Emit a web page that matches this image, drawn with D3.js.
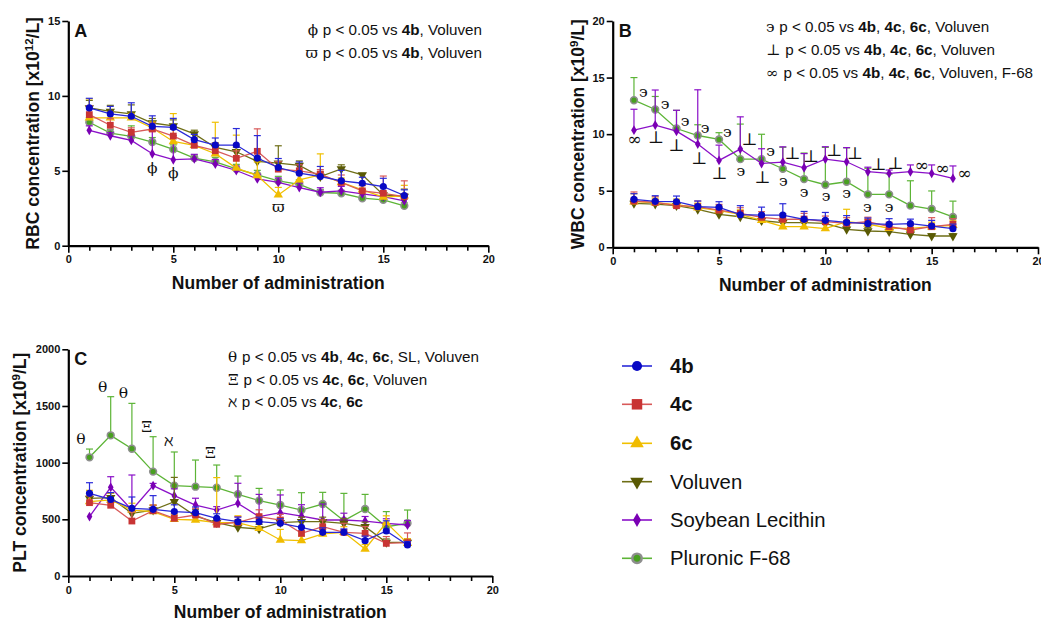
<!DOCTYPE html>
<html>
<head>
<meta charset="utf-8">
<script src="https://cdn.jsdelivr.net/npm/d3@7"></script>
<style>
  html, body { margin: 0; padding: 0; background: #fff; }
  svg { display: block; }
  text { font-family: "Liberation Sans", Arial, Helvetica, sans-serif; fill: #111; }
  .sym { font-family: "DejaVu Serif", "Liberation Serif", serif; }
</style>
</head>
<body>
<svg id="chart" width="1041" height="621"></svg>
<script>
// ---- Data -------------------------------------------------------------
const administrations = [1, 2, 3, 4, 5, 6, 7, 8, 9, 10, 11, 12, 13, 14, 15, 16];
const seriesNames = ["4b", "4c", "6c", "Voluven", "Soybean Lecithin", "Pluronic F-68"];
const xTicks = [0, 5, 10, 15, 20];
const xMinorTicks = [1, 2, 3, 4, 6, 7, 8, 9, 11, 12, 13, 14, 16, 17, 18, 19];
const rbcTicks = [0, 5, 10, 15];
const wbcTicks = [0, 5, 10, 15, 20];
const pltTicks = [0, 500, 1000, 1500, 2000];

// RBC [x10^12/L], mean and SD
const rbc4b = [9.2, 8.8, 8.64, 7.97, 7.9, 7.08, 6.72, 6.72, 5.85, 5.22, 4.84, 4.62, 4.33, 4.17, 3.95, 3.35];
const rbc4bSd = [0.64, 0.5, 0.9, 0.7, 0.6, 0.35, 0.47, 1.1, 1.5, 0.6, 0.75, 0.67, 0.7, 0.4, 0.55, 0.38];
const rbc4c = [8.75, 8.04, 7.57, 7.79, 7.32, 6.7, 6.34, 5.83, 6.3, 5.11, 5.0, 4.78, 4.22, 3.66, 3.5, 3.28];
const rbc4cSd = [0.6, 0.45, 0.3, 0.4, 0.45, 0.4, 0.5, 0.5, 1.5, 0.5, 0.4, 0.3, 0.5, 0.35, 1.15, 1.05];
const rbc6c = [8.53, 8.53, 8.53, 7.86, 6.96, 6.7, 6.14, 5.18, 4.69, 3.39, 4.4, 4.73, 4.22, 3.73, 3.24, 3.33];
const rbc6cSd = [1.27, 0.4, 0.3, 0.4, 1.86, 0.5, 2.1, 2.2, 0.9, 0.5, 0.5, 1.4, 0.3, 0.3, 0.3, 0.7];
const rbcVoluven = [9.2, 8.97, 8.8, 8.19, 8.0, 7.46, 6.56, 6.27, 5.63, 5.51, 5.36, 4.62, 5.13, 4.73, 3.39, 3.28];
const rbcVoluvenSd = [0.5, 0.4, 0.6, 0.3, 0.4, 0.25, 0.3, 0.3, 0.3, 1.16, 0.3, 0.3, 0.27, 0.1, 0.5, 0.5];
const rbcSL = [7.7, 7.34, 7.03, 6.14, 5.74, 5.8, 5.45, 5.02, 4.46, 4.22, 3.88, 3.57, 3.66, 3.46, 3.28, 2.99];
const rbcSLSd = [0.3, 0.2, 0.3, 1.5, 1.6, 0.3, 0.3, 0.3, 0.3, 0.3, 0.3, 0.3, 0.3, 0.3, 0.3, 0.3];
const rbcF68 = [8.24, 7.52, 7.3, 6.92, 6.43, 5.85, 5.6, 5.13, 4.73, 4.33, 4.1, 3.55, 3.5, 3.17, 3.06, 2.66];
const rbcF68Sd = [0.3, 0.25, 0.7, 0.3, 0.3, 0.2, 0.3, 0.3, 0.3, 0.3, 0.3, 0.2, 0.2, 0.2, 0.2, 0.2];

// WBC [x10^9/L], mean and SD
const wbc4b = [4.24, 4.06, 4.03, 3.59, 3.53, 2.88, 2.85, 2.85, 2.47, 2.38, 2.2, 2.09, 2.03, 2.09, 1.88, 1.65];
const wbc4bSd = [0.5, 0.5, 0.5, 0.5, 0.5, 0.8, 0.7, 1.0, 0.7, 0.7, 0.6, 0.5, 0.5, 0.4, 0.5, 0.4];
const wbc4c = [4.09, 3.97, 3.68, 3.59, 3.29, 3.0, 2.65, 2.47, 2.5, 2.26, 2.12, 2.26, 1.82, 1.53, 1.82, 2.03];
const wbc4cSd = [0.8, 0.5, 0.4, 0.5, 0.5, 0.5, 0.5, 0.5, 0.5, 0.5, 0.5, 0.4, 0.4, 0.4, 0.8, 0.5];
const wbc6c = [4.03, 3.94, 3.76, 3.5, 3.24, 2.91, 2.38, 1.82, 1.82, 1.65, 2.26, 2.06, 1.68, 1.68, 1.82, 1.94];
const wbc6cSd = [0.7, 0.4, 0.5, 0.4, 0.4, 0.4, 0.5, 0.4, 0.4, 0.4, 1.1, 0.4, 0.4, 0.4, 0.4, 0.4];
const wbcVoluven = [3.88, 3.82, 3.68, 3.35, 2.91, 2.7, 2.35, 2.18, 2.18, 2.12, 1.59, 1.44, 1.38, 1.15, 1.0, 1.0];
const wbcVoluvenSd = [0.3, 0.3, 0.3, 0.3, 0.3, 0.3, 0.3, 0.3, 0.3, 0.3, 0.3, 0.3, 0.3, 0.2, 0.2, 0.2];
const wbcSL = [10.35, 10.8, 10.26, 9.12, 7.68, 8.68, 7.41, 7.53, 7.03, 7.79, 7.56, 6.68, 6.53, 6.68, 6.53, 6.09];
const wbcSLSd = [1.85, 3.1, 1.85, 4.8, 1.35, 2.85, 1.3, 1.35, 1.25, 1.1, 1.25, 0.4, 0.3, 0.6, 0.75, 1.1];
const wbcF68 = [13.0, 12.18, 10.5, 9.88, 9.53, 7.79, 7.79, 6.94, 6.03, 5.53, 5.79, 4.68, 4.68, 3.68, 3.38, 2.68];
const wbcF68Sd = [2.0, 1.15, 1.6, 0.95, 0.6, 3.1, 2.2, 1.9, 2.3, 3.3, 3.0, 2.3, 1.8, 2.2, 1.6, 1.4];

// PLT [x10^9/L], mean and SD
const plt4b = [729, 676, 597, 588, 568, 559, 509, 479, 479, 465, 429, 385, 385, 312, 397, 274];
const plt4bSd = [94, 60, 100, 121, 60, 50, 40, 40, 40, 40, 60, 40, 30, 40, 90, 30];
const plt4c = [647, 624, 485, 576, 509, 538, 456, 474, 524, 494, 376, 435, 385, 376, 288, 294];
const plt4cSd = [60, 50, 80, 50, 40, 60, 40, 50, 60, 50, 50, 60, 80, 60, 60, 86];
const plt6c = [656, 671, 582, 568, 500, 494, 471, 471, 421, 318, 312, 371, 385, 238, 471, 288];
const plt6cSd = [100, 60, 60, 60, 40, 40, 397, 60, 60, 93, 40, 40, 50, 40, 60, 40];
const pltVoluven = [685, 691, 553, 582, 656, 529, 471, 429, 415, 471, 479, 479, 465, 435, 297, 297];
const pltVoluvenSd = [50, 40, 60, 40, 214, 60, 40, 40, 40, 40, 40, 40, 40, 40, 30, 30];
const pltSL = [524, 782, 582, 797, 709, 626, 582, 641, 524, 559, 529, 494, 494, 485, 465, 450];
const pltSLSd = [0, 94, 309, 20, 60, 60, 30, 177, 196, 156, 100, 141, 60, 40, 40, 40];
const pltF68 = [1047, 1241, 1123, 921, 797, 788, 779, 721, 665, 626, 582, 635, 488, 591, 435, 465];
const pltF68Sd = [73, 341, 400, 308, 297, 235, 200, 161, 108, 133, 153, 103, 241, 129, 133, 117];

// Significance symbols placed at [administration, value]
const rbcSymbols = [["ϕ", 4, 5.18], ["ϕ", 5, 4.84], ["ϖ", 10, 2.57]];
const wbcSymbols = [
  ["϶", 1.44, 13.7], ["϶", 2.46, 12.7], ["϶", 3.4, 11.2], ["϶", 4.34, 10.5], ["϶", 5.39, 10.2],
  ["∞", 1.02, 9.53], ["⊥", 2.04, 9.76], ["⊥", 3.0, 9.0], ["⊥", 4.07, 7.85], ["⊥", 5.02, 6.6],
  ["϶", 6.03, 6.76], ["⊥", 6.43, 9.6], ["⊥", 7.04, 6.24], ["϶", 7.43, 8.5], ["϶", 8.03, 5.85],
  ["⊥", 8.45, 8.3], ["϶", 9.0, 4.85], ["⊥", 9.33, 8.06], ["϶", 10.03, 4.53], ["⊥", 10.42, 8.6],
  ["϶", 11.0, 4.76], ["⊥", 11.4, 8.35], ["϶", 11.97, 3.59], ["⊥", 12.5, 7.4], ["϶", 13.0, 3.59],
  ["⊥", 13.3, 7.47], ["∞", 14.53, 7.26], ["∞", 15.5, 6.97], ["∞", 16.54, 6.53]
];
const pltSymbols = [["θ", 0.6, 1206], ["θ", 1.62, 1670], ["θ", 2.6, 1612], ["Ξ", 3.7, 1318], ["ℵ", 4.72, 1191], ["Ξ", 6.71, 1088]];

// Significance keys: symbol, then [text, bold?] parts
const rbcKey = [
  ["ϕ", [["p < 0.05 vs ", false], ["4b", true], [", Voluven", false]]],
  ["ϖ", [["p < 0.05 vs ", false], ["4b", true], [", Voluven", false]]]
];
const wbcKey = [
  ["϶", [["p < 0.05 vs ", false], ["4b", true], [", ", false], ["4c", true], [", ", false], ["6c", true], [", Voluven", false]]],
  ["⊥", [["p < 0.05 vs ", false], ["4b", true], [", ", false], ["4c", true], [", ", false], ["6c", true], [", Voluven", false]]],
  ["∞", [["p < 0.05 vs ", false], ["4b", true], [", ", false], ["4c", true], [", ", false], ["6c", true], [", Voluven, F-68", false]]]
];
const pltKey = [
  ["θ", [["p < 0.05 vs ", false], ["4b", true], [", ", false], ["4c", true], [", ", false], ["6c", true], [", SL, Voluven", false]]],
  ["Ξ", [["p < 0.05 vs ", false], ["4c", true], [", ", false], ["6c", true], [", Voluven", false]]],
  ["ℵ", [["p < 0.05 vs ", false], ["4c", true], [", ", false], ["6c", true]]]
];

// ---- Series styling ---------------------------------------------------
const styles = [
  { line: "#2a2ad8", fill: "#0808c4", stroke: "none", sw: 0, type: d3.symbolCircle, size: 40, legSize: 80, bold: true },
  { line: "#d85a5a", fill: "#c83434", stroke: "none", sw: 0, type: d3.symbolSquare, size: 46, legSize: 110, bold: true },
  { line: "#f0c000", fill: "#f0bc00", stroke: "none", sw: 0, type: d3.symbolTriangle, size: 38, legSize: 80, bold: true },
  { line: "#6e6e16", fill: "#5a5a04", stroke: "none", sw: 0, type: d3.symbolTriangle, size: 38, legSize: 80, bold: false, flip: true },
  { line: "#8a10c8", fill: "#7a00b4", stroke: "none", sw: 0, type: d3.symbolDiamond, size: 28, legSize: 55, bold: false },
  { line: "#5cb436", fill: "#48a020", stroke: "#8e8e8e", sw: 1.6, type: d3.symbolCircle, size: 36, legSize: 70, bold: false }
];
// drawing order: bottom to top
const drawOrder = [5, 4, 3, 2, 1, 0];

const svg = d3.select("#chart");

function drawPanel(cfg) {
  const x = d3.scaleLinear().domain([0, 20]).range([cfg.left, cfg.right]);
  const y = d3.scaleLinear().domain([0, cfg.yMax]).range([cfg.bottom, cfg.top]);
  const g = svg.append("g");

  // series: error bars, lines, markers
  drawOrder.forEach(si => {
    const st = styles[si];
    const vals = cfg.means[si], sds = cfg.sds[si];
    const pts = administrations.map((a, i) => ({ a, v: vals[i], sd: sds[i] }));
    const sg = g.append("g");
    const eb = sg.append("g").attr("stroke", st.line).attr("stroke-width", 1.2).attr("fill", "none");
    pts.filter(p => p.sd > 0).forEach(p => {
      const cx = x(p.a), y1 = y(p.v), y2 = y(p.v + p.sd);
      eb.append("line").attr("x1", cx).attr("x2", cx).attr("y1", y1).attr("y2", y2);
      eb.append("line").attr("x1", cx - 3.5).attr("x2", cx + 3.5).attr("y1", y2).attr("y2", y2);
    });
    sg.append("path")
      .datum(pts)
      .attr("fill", "none")
      .attr("stroke", st.line)
      .attr("stroke-width", 1.3)
      .attr("d", d3.line().x(p => x(p.a)).y(p => y(p.v)));
    const sym = d3.symbol().type(st.type).size(st.size);
    sg.selectAll("path.m").data(pts).join("path")
      .attr("class", "m")
      .attr("d", sym)
      .attr("transform", p => `translate(${x(p.a)},${y(p.v)})${st.flip ? " rotate(180)" : ""}`)
      .attr("fill", st.fill)
      .attr("stroke", st.stroke)
      .attr("stroke-width", st.sw);
  });

  // axes
  g.append("g").attr("transform", `translate(0,${cfg.bottom})`)
    .call(d3.axisBottom(x).tickValues(xTicks).tickSize(7).tickPadding(3).tickSizeOuter(0));
  g.append("g").attr("transform", `translate(0,${cfg.bottom})`)
    .call(d3.axisBottom(x).tickValues(xMinorTicks).tickSize(5).tickFormat("").tickSizeOuter(0))
    .call(a => a.select(".domain").remove());
  g.append("g").attr("transform", `translate(${cfg.left},0)`)
    .call(d3.axisLeft(y).tickValues(cfg.yTicks).tickFormat(d3.format("d")).tickSize(6).tickPadding(2).tickSizeOuter(0));
  g.selectAll(".domain").attr("stroke", "#000").attr("stroke-width", 2.2);
  g.selectAll(".tick line").attr("stroke", "#000").attr("stroke-width", 1.6);
  g.selectAll(".tick text").attr("font-size", 11).attr("font-weight", "bold")
    .attr("font-family", "'Liberation Sans', Arial, sans-serif").attr("fill", "#111");

  // panel letter
  g.append("text").attr("x", cfg.left + 6).attr("y", cfg.top + 16)
    .attr("font-size", 18).attr("font-weight", "bold").text(cfg.letter);

  // axis titles
  g.append("text")
    .attr("x", (cfg.left + cfg.right) / 2).attr("y", cfg.xTitleY)
    .attr("text-anchor", "middle").attr("font-size", 17.5).attr("font-weight", "bold")
    .text("Number of administration");
  const yt = g.append("text")
    .attr("transform", `translate(${cfg.yTitleX},${(cfg.top + cfg.bottom) / 2}) rotate(-90)`)
    .attr("text-anchor", "middle").attr("font-size", 17.5).attr("font-weight", "bold");
  yt.append("tspan").text(cfg.yTitle[0]);
  yt.append("tspan").attr("font-size", 11.5).attr("dy", "-0.55em").text(cfg.yTitle[1]);
  yt.append("tspan").attr("dy", "0.38em").text(cfg.yTitle[2]);

  // significance symbols
  g.selectAll("text.s").data(cfg.symbols).join("text")
    .attr("class", "s sym")
    .attr("x", d => x(d[1])).attr("y", d => y(d[2]))
    .attr("text-anchor", "middle").attr("dominant-baseline", "central")
    .attr("font-size", d => (d[0] === "⊥" || d[0] === "∞") ? 17 : 15.5).attr("fill", "#222")
    .text(d => d[0]);

  // significance key
  cfg.key.forEach((row, i) => {
    const t = g.append("text")
      .attr("x", cfg.keyX).attr("y", cfg.keyY + i * cfg.keyStep)
      .attr("text-anchor", cfg.keyAnchor).attr("font-size", 15.2);
    t.append("tspan").attr("class", "sym").text(row[0] + " ");
    row[1].forEach(part => {
      t.append("tspan").attr("font-weight", part[1] ? "bold" : "normal").text(part[0]);
    });
  });
}

drawPanel({
  letter: "A", left: 68.3, right: 488.3, top: 21, bottom: 245.7, yMax: 15, yTicks: rbcTicks,
  means: [rbc4b, rbc4c, rbc6c, rbcVoluven, rbcSL, rbcF68],
  sds: [rbc4bSd, rbc4cSd, rbc6cSd, rbcVoluvenSd, rbcSLSd, rbcF68Sd],
  yTitle: ["RBC concentration [x10", "12", "/L]"], yTitleX: 39, xTitleY: 289,
  symbols: rbcSymbols, key: rbcKey, keyX: 482, keyY: 35, keyStep: 23.3, keyAnchor: "end"
});
drawPanel({
  letter: "B", left: 612.7, right: 1038, top: 21, bottom: 247.3, yMax: 20, yTicks: wbcTicks,
  means: [wbc4b, wbc4c, wbc6c, wbcVoluven, wbcSL, wbcF68],
  sds: [wbc4bSd, wbc4cSd, wbc6cSd, wbcVoluvenSd, wbcSLSd, wbcF68Sd],
  yTitle: ["WBC concentration [x10", "9", "/L]"], yTitleX: 584, xTitleY: 291,
  symbols: wbcSymbols, key: wbcKey, keyX: 766, keyY: 31.5, keyStep: 23, keyAnchor: "start"
});
drawPanel({
  letter: "C", left: 68.3, right: 492.3, top: 349.3, bottom: 576, yMax: 2000, yTicks: pltTicks,
  means: [plt4b, plt4c, plt6c, pltVoluven, pltSL, pltF68],
  sds: [plt4bSd, plt4cSd, plt6cSd, pltVoluvenSd, pltSLSd, pltF68Sd],
  yTitle: ["PLT concentration [x10", "9", "/L]"], yTitleX: 26, xTitleY: 618,
  symbols: pltSymbols, key: pltKey, keyX: 228, keyY: 362, keyStep: 22.5, keyAnchor: "start"
});

// ---- Legend -----------------------------------------------------------
const legendRows = [366, 404.3, 443.3, 481.7, 520, 558.3];
const legend = svg.append("g");
seriesNames.forEach((name, i) => {
  const st = styles[i];
  const ly = legendRows[i];
  legend.append("line").attr("x1", 622).attr("x2", 652).attr("y1", ly).attr("y2", ly)
    .attr("stroke", st.line).attr("stroke-width", 1.6);
  legend.append("path")
    .attr("d", d3.symbol().type(st.type).size(st.legSize))
    .attr("transform", `translate(637,${ly})${st.flip ? " rotate(180)" : ""}`)
    .attr("fill", st.fill).attr("stroke", st.stroke).attr("stroke-width", st.sw ? 2.4 : 0);
  legend.append("text").attr("x", 670).attr("y", ly + 7)
    .attr("font-size", 20.3).attr("font-weight", st.bold ? "bold" : "normal")
    .text(name);
});
</script>
</body>
</html>
